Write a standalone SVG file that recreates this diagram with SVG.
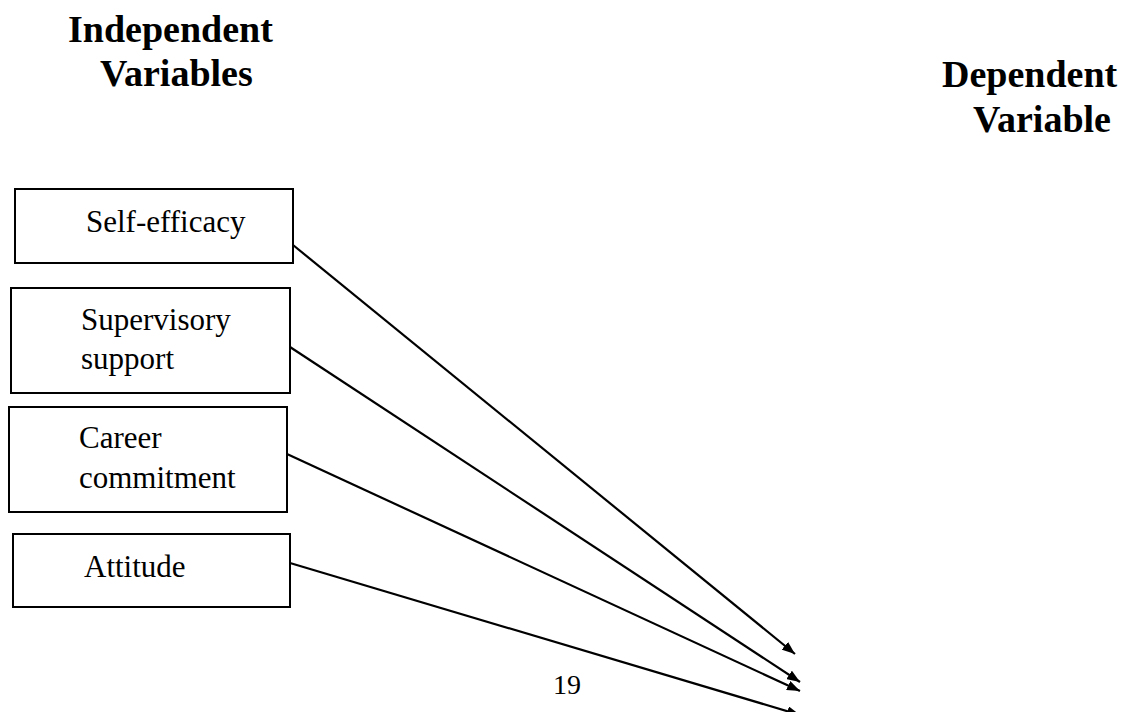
<svg xmlns="http://www.w3.org/2000/svg" width="1126" height="712" viewBox="0 0 1126 712">
  <style>
    .heading { font-family: "Liberation Serif", "Times New Roman", serif; font-weight: bold; font-size: 38px; fill: #000; }
    .label { font-family: "Liberation Serif", "Times New Roman", serif; font-size: 31px; fill: #000; }
    .page { font-family: "Liberation Serif", "Times New Roman", serif; font-size: 28px; fill: #000; }
    .box { fill: #fff; stroke: #000; stroke-width: 2; }
    .link { stroke: #000; stroke-width: 2.2; fill: none; marker-end: url(#arrow); }
  </style>
  <defs>
    <marker id="arrow" markerUnits="userSpaceOnUse" markerWidth="14" markerHeight="10" refX="13" refY="5" orient="auto">
      <path d="M0,0 L13,5 L0,10 Z" fill="#000"/>
    </marker>
  </defs>
  <rect width="1126" height="712" fill="#fff"/>

  <!-- column headings -->
  <g id="heading-independent">
    <text class="heading" x="68" y="42">Independent</text>
    <text class="heading" x="100" y="86">Variables</text>
  </g>
  <g id="heading-dependent">
    <text class="heading" x="942" y="87">Dependent</text>
    <text class="heading" x="973" y="132">Variable</text>
  </g>

  <!-- variable boxes -->
  <g id="node-self-efficacy">
    <rect class="box" x="15" y="189" width="278" height="74"/>
    <text class="label" x="86" y="232">Self-efficacy</text>
  </g>
  <g id="node-supervisory-support">
    <rect class="box" x="11" y="288" width="279" height="105"/>
    <text class="label" x="81" y="330">Supervisory</text>
    <text class="label" x="81" y="369">support</text>
  </g>
  <g id="node-career-commitment">
    <rect class="box" x="9" y="407" width="278" height="105"/>
    <text class="label" x="79" y="448">Career</text>
    <text class="label" x="79" y="488">commitment</text>
  </g>
  <g id="node-attitude">
    <rect class="box" x="13" y="534" width="277" height="73"/>
    <text class="label" x="84" y="577">Attitude</text>
  </g>

  <!-- connectors -->
  <g id="connectors">
    <line class="link" x1="293" y1="245" x2="795" y2="654"/>
    <line class="link" x1="290" y1="347" x2="800" y2="682"/>
    <line class="link" x1="287" y1="454" x2="800" y2="691"/>
    <line class="link" x1="290" y1="563" x2="800" y2="715"/>
  </g>

  <!-- page number -->
  <text class="page" x="553" y="694">19</text>
</svg>
